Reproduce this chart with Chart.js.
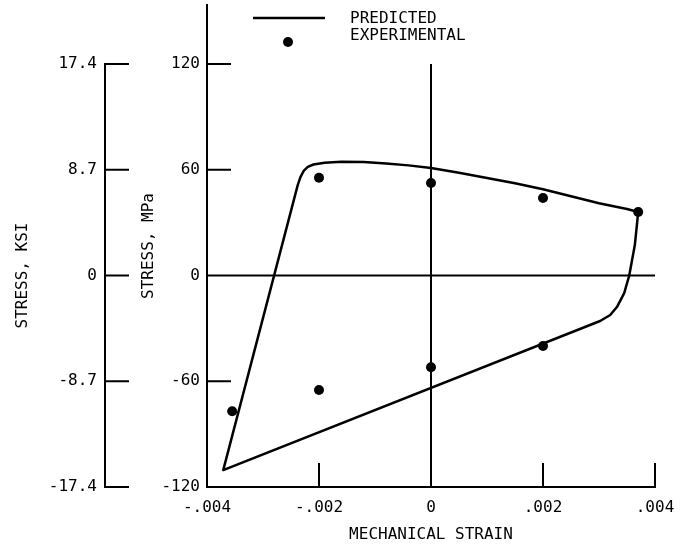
<!DOCTYPE html>
<html><head><meta charset="utf-8">
<script src="https://cdn.jsdelivr.net/npm/chart.js@4"></script>
<style>html,body{margin:0;padding:0;background:#fff}#wrap{width:692px;height:547px}</style>
</head><body><div id="wrap"><canvas id="c" width="692" height="547"></canvas></div>
<script>
// ---- data ----
const strainTicks = [-0.004, -0.002, 0, 0.002, 0.004];
const strainTickLabels = ['-.004', '-.002', '0', '.002', '.004'];
const mpaTicks = [-120, -60, 0, 60, 120];
const ksiTicks = [-17.4, -8.7, 0, 8.7, 17.4];
const ksiTickLabels = ['-17.4', '-8.7', '0', '8.7', '17.4'];
const mpaMin = -120, mpaMax = 153.5;
const ksiPerMpa = 17.4 / 120;

const predStrain = [0.0037, 0.00364, 0.00354, 0.00345, 0.00332, 0.0032, 0.00302, -0.00371,
  -0.00238, -0.00233, -0.00227, -0.0022, -0.0021, -0.0019, -0.0016, -0.0012, -0.0008, -0.0004,
  0, 0.0005, 0.001, 0.0015, 0.002, 0.0025, 0.003, 0.0035, 0.0037];
const predStress = [36.0, 17.3, 0, -10, -17.9, -22.4, -25.8, -110.4,
  51.3, 56, 59.5, 61.6, 63.0, 64.0, 64.6, 64.4, 63.6, 62.5,
  61, 58.3, 55.3, 52.3, 49, 45, 41, 37.7, 36.0];

const expStrain = [-0.00355, -0.002, 0, 0.002, 0.0037, 0.002, 0, -0.002];
const expStress = [-77, -65, -52, -40, 36, 44, 52.5, 55.5];

const FONT = 'DejaVu Sans Mono';
const f16 = {family: FONT, size: 16};

const axesPlugin = {
  id: 'axesPlugin',
  beforeDatasetsDraw(chart) {
    const ctx = chart.ctx, xs = chart.scales.x, ys = chart.scales.y;
    ctx.save();
    ctx.strokeStyle = '#000';
    ctx.lineWidth = 2;
    ctx.lineCap = 'butt';
    ctx.beginPath();
    ctx.moveTo(xs.getPixelForValue(0), ys.getPixelForValue(120));
    ctx.lineTo(xs.getPixelForValue(0), ys.bottom);
    ctx.moveTo(xs.left, ys.getPixelForValue(0));
    ctx.lineTo(xs.right, ys.getPixelForValue(0));
    mpaTicks.forEach(v => {
      const py = ys.getPixelForValue(v);
      ctx.moveTo(xs.left, py); ctx.lineTo(xs.left + 24, py);
    });
    strainTicks.forEach(v => {
      const px = xs.getPixelForValue(v);
      ctx.moveTo(px, ys.bottom); ctx.lineTo(px, ys.bottom - 24);
    });
    ctx.stroke();
    ctx.restore();
  },
  afterDraw(chart) {
    const ctx = chart.ctx, yk = chart.scales.yk;
    ctx.save();
    ctx.strokeStyle = '#000';
    ctx.fillStyle = '#000';
    ctx.lineWidth = 2;
    const axX = 105;
    ctx.beginPath();
    ctx.moveTo(axX, yk.getPixelForValue(ksiTicks[ksiTicks.length - 1]));
    ctx.lineTo(axX, yk.getPixelForValue(ksiTicks[0]));
    ksiTicks.forEach(v => {
      const py = yk.getPixelForValue(v);
      ctx.moveTo(axX - 1, py); ctx.lineTo(axX + 24, py);
    });
    ctx.stroke();
    ctx.font = '16px "' + FONT + '"';
    ctx.textAlign = 'right';
    ctx.textBaseline = 'middle';
    ksiTicks.forEach((v, i) => {
      ctx.fillText(ksiTickLabels[i], 97, yk.getPixelForValue(v));
    });
    ctx.save();
    ctx.translate(23, chart.scales.y.getPixelForValue(0));
    ctx.rotate(-Math.PI / 2);
    ctx.textAlign = 'center';
    ctx.fillText('STRESS, KSI', 0, 0);
    ctx.restore();
    ctx.lineWidth = 2.5;
    ctx.beginPath();
    ctx.moveTo(253, 18); ctx.lineTo(325, 18);
    ctx.stroke();
    ctx.beginPath();
    ctx.arc(288, 42, 5, 0, Math.PI * 2);
    ctx.fill();
    ctx.textAlign = 'left';
    ctx.fillText('PREDICTED', 350, 19);
    ctx.fillText('EXPERIMENTAL', 350, 36);
    ctx.restore();
  }
};

new Chart(document.getElementById('c'), {
  type: 'scatter',
  data: {
    datasets: [
      {
        label: 'PREDICTED',
        data: predStrain.map((x, i) => ({x, y: predStress[i]})),
        showLine: true,
        borderColor: '#000',
        borderWidth: 2.5,
        borderJoinStyle: 'round',
        pointRadius: 0,
        tension: 0,
        fill: false
      },
      {
        label: 'EXPERIMENTAL',
        data: expStrain.map((x, i) => ({x, y: expStress[i]})),
        showLine: false,
        pointRadius: 5,
        pointBackgroundColor: '#000',
        pointBorderColor: '#000',
        pointBorderWidth: 0
      }
    ]
  },
  options: {
    responsive: false,
    animation: false,
    devicePixelRatio: 1,
    layout: {padding: {left: 139, right: 37, top: 5, bottom: 0}},
    plugins: {legend: {display: false}, tooltip: {enabled: false}},
    scales: {
      x: {
        type: 'linear', position: 'bottom',
        min: -0.004, max: 0.004,
        afterBuildTicks: s => { s.ticks = strainTicks.map(v => ({value: v})); },
        afterFit: s => { s.height = 60; s.paddingLeft = 0; s.paddingRight = 0; },
        ticks: {
          callback: (v, i) => strainTickLabels[i],
          font: f16, color: '#000', padding: 11, maxRotation: 0, autoSkip: false
        },
        grid: {display: false, drawTicks: false},
        border: {display: true, color: '#000', width: 2},
        title: {display: true, text: 'MECHANICAL STRAIN', font: f16, color: '#000', padding: {top: 0, bottom: 3}}
      },
      y: {
        type: 'linear', position: 'left',
        min: mpaMin, max: mpaMax,
        afterBuildTicks: s => { s.ticks = mpaTicks.map(v => ({value: v})); },
        afterFit: s => { s.width = 68; s.paddingTop = 0; s.paddingBottom = 0; },
        ticks: {font: f16, color: '#000', padding: 7, autoSkip: false, callback: v => String(v)},
        grid: {display: false, drawTicks: false},
        border: {display: true, color: '#000', width: 2},
        title: {display: true, text: 'STRESS, MPa', font: f16, color: '#000', padding: {top: 0, bottom: 0}}
      },
      yk: {
        type: 'linear', position: 'left', display: false,
        min: mpaMin * ksiPerMpa, max: mpaMax * ksiPerMpa
      }
    }
  },
  plugins: [axesPlugin]
});
</script>
</body></html>
